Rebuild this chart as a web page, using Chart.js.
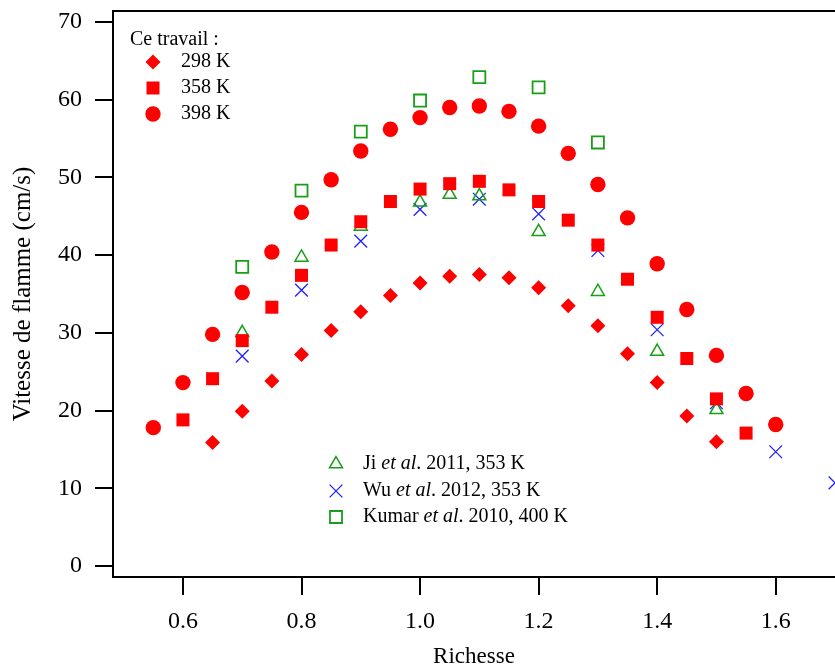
<!DOCTYPE html>
<html>
<head>
<meta charset="utf-8">
<script src="https://cdn.jsdelivr.net/npm/chart.js"></script>
<style>
  html, body { margin: 0; padding: 0; background: #fff; overflow: hidden; }
  #wrap { width: 835px; height: 665px; }
</style>
</head>
<body>
<div id="wrap"><canvas id="flamme" width="835" height="665"></canvas></div>
<script>
// Ce travail (richesse 0.05 en 0.05)
const phi298 = [0.65, 0.70, 0.75, 0.80, 0.85, 0.90, 0.95, 1.00, 1.05, 1.10, 1.15, 1.20, 1.25, 1.30, 1.35, 1.40, 1.45, 1.50];
const v298 = [15.9, 19.9, 23.8, 27.2, 30.3, 32.7, 34.8, 36.4, 37.3, 37.5, 37.1, 35.8, 33.5, 30.9, 27.3, 23.6, 19.3, 16.0];

const phi358 = [0.60, 0.65, 0.70, 0.75, 0.80, 0.85, 0.90, 0.95, 1.00, 1.05, 1.10, 1.15, 1.20, 1.25, 1.30, 1.35, 1.40, 1.45, 1.50, 1.55];
const v358 = [18.8, 24.1, 29.0, 33.3, 37.4, 41.3, 44.3, 46.9, 48.5, 49.2, 49.5, 48.4, 46.9, 44.5, 41.3, 36.9, 32.0, 26.7, 21.5, 17.1];

const phi398 = [0.55, 0.60, 0.65, 0.70, 0.75, 0.80, 0.85, 0.90, 0.95, 1.00, 1.05, 1.10, 1.15, 1.20, 1.25, 1.30, 1.35, 1.40, 1.45, 1.50, 1.55, 1.60];
const v398 = [17.8, 23.6, 29.8, 35.2, 40.4, 45.5, 49.7, 53.4, 56.2, 57.7, 59.0, 59.2, 58.5, 56.6, 53.1, 49.1, 44.8, 38.9, 33.0, 27.1, 22.2, 18.2];

// Littérature
const phiJi = [0.70, 0.80, 0.90, 1.00, 1.05, 1.10, 1.20, 1.30, 1.40, 1.50];
const vJi = [30.0, 39.7, 43.7, 46.8, 47.8, 47.6, 43.0, 35.3, 27.6, 20.1];

const phiWu = [0.70, 0.80, 0.90, 1.00, 1.10, 1.20, 1.30, 1.40, 1.50, 1.60, 1.70];
const vWu = [27.0, 35.5, 41.8, 45.9, 47.2, 45.3, 40.6, 30.4, 21.0, 14.7, 10.7];

const phiKumar = [0.70, 0.80, 0.90, 1.00, 1.10, 1.20, 1.30];
const vKumar = [38.5, 48.3, 55.9, 59.9, 62.9, 61.6, 54.5];

const xTicks = [0.6, 0.8, 1.0, 1.2, 1.4, 1.6];
const yTicks = [0, 10, 20, 30, 40, 50, 60, 70];

const RED = '#ff0000';
const GREEN = '#1a9e1a';
const BLUE = '#1f1fff';
const SERIF = '"Liberation Serif", "Times New Roman", serif';

function pts(xs, ys) {
  return xs.map((x, i) => ({ x: x, y: ys[i] }));
}

const datasets = [
  { label: '298 K', data: pts(phi298, v298), pointStyle: 'rectRot', pointRadius: 7.5,
    backgroundColor: RED, borderColor: RED, borderWidth: 0 },
  { label: '358 K', data: pts(phi358, v358), pointStyle: 'rect', pointRadius: 9.2,
    backgroundColor: RED, borderColor: RED, borderWidth: 0 },
  { label: '398 K', data: pts(phi398, v398), pointStyle: 'circle', pointRadius: 7.7,
    backgroundColor: RED, borderColor: RED, borderWidth: 0 },
  { label: 'Ji', data: pts(phiJi, vJi), pointStyle: 'triangle', pointRadius: 7.5,
    backgroundColor: 'rgba(0,0,0,0)', borderColor: GREEN, borderWidth: 1.5 },
  { label: 'Wu', data: pts(phiWu, vWu), pointStyle: 'crossRot', pointRadius: 9,
    backgroundColor: BLUE, borderColor: BLUE, borderWidth: 1.3 },
  { label: 'Kumar', data: pts(phiKumar, vKumar), pointStyle: 'rect', pointRadius: 8.5,
    backgroundColor: 'rgba(0,0,0,0)', borderColor: GREEN, borderWidth: 1.8 }
];
datasets.forEach(d => { d.showLine = false; d.pointHoverRadius = d.pointRadius; });

// Légendes dessinées à la main (texte en italique pour "et al")
const legendPlugin = {
  id: 'legendes',
  afterDraw(chart) {
    const ctx = chart.ctx;
    const ca = chart.chartArea;
    ctx.save();
    // cadre du haut
    ctx.strokeStyle = '#000';
    ctx.lineWidth = 2;
    ctx.beginPath();
    ctx.moveTo(ca.left - 1, ca.top);
    ctx.lineTo(ca.right, ca.top);
    ctx.stroke();

    const drawPoint = Chart.helpers.drawPoint;
    function marker(ds, x, y) {
      ctx.save();
      ctx.fillStyle = ds.backgroundColor;
      ctx.strokeStyle = ds.borderColor;
      ctx.lineWidth = ds.borderWidth;
      drawPoint(ctx, { pointStyle: ds.pointStyle, radius: ds.pointRadius, rotation: 0, borderWidth: ds.borderWidth }, x, y);
      ctx.restore();
    }
    function parts(list, x, y) {
      list.forEach(p => {
        ctx.font = (p[1] ? 'italic ' : '') + '20px ' + SERIF;
        ctx.fillText(p[0], x, y);
        x += ctx.measureText(p[0]).width;
      });
    }

    ctx.fillStyle = '#000';
    ctx.textBaseline = 'middle';
    ctx.textAlign = 'left';
    ctx.font = '20px ' + SERIF;
    ctx.fillText('Ce travail :', 130, 40);
    const rows1 = [62, 88, 114];
    [0, 1, 2].forEach((k, i) => {
      marker(datasets[k], 153, rows1[i]);
      ctx.fillStyle = '#000';
      ctx.font = '20px ' + SERIF;
      ctx.fillText(datasets[k].label, 181, rows1[i]);
    });

    const rows2 = [464, 491, 517];
    const texts2 = [
      [['Ji ', false], ['et al', true], ['. 2011, 353 K', false]],
      [['Wu ', false], ['et al', true], ['. 2012, 353 K', false]],
      [['Kumar ', false], ['et al', true], ['. 2010, 400 K', false]]
    ];
    [3, 4, 5].forEach((k, i) => {
      marker(datasets[k], 336, rows2[i]);
      ctx.fillStyle = '#000';
      parts(texts2[i], 363, rows2[i]);
    });
    ctx.restore();
  }
};

const axisGrid = { display: true, drawOnChartArea: false, drawTicks: true, tickLength: 18, lineWidth: 2, color: '#000' };
const axisBorder = { display: true, width: 2, color: '#000' };

new Chart(document.getElementById('flamme'), {
  type: 'scatter',
  data: { datasets: datasets },
  options: {
    responsive: false,
    animation: false,
    events: [],
    layout: { autoPadding: false, padding: { top: 11, right: 0, left: 0, bottom: 0 } },
    plugins: { legend: { display: false }, tooltip: { enabled: false } },
    scales: {
      x: {
        type: 'linear',
        min: 0.482,
        max: 1.7,
        afterBuildTicks: s => { s.ticks = xTicks.map(v => ({ value: v })); },
        afterFit: s => { s.height = 88; s.paddingLeft = 0; s.paddingRight = 0; },
        grid: axisGrid,
        border: axisBorder,
        ticks: {
          color: '#000', padding: 12,
          font: { family: SERIF, size: 24 },
          callback: v => v.toFixed(1)
        },
        title: {
          display: true, text: 'Richesse', color: '#000',
          font: { family: SERIF, size: 23 }, padding: { top: 0, bottom: -6 }
        }
      },
      y: {
        type: 'linear',
        min: -1.42,
        max: 71.42,
        afterBuildTicks: s => { s.ticks = yTicks.map(v => ({ value: v })); },
        afterFit: s => { s.width = 113; s.paddingTop = 0; s.paddingBottom = 0; },
        grid: axisGrid,
        border: axisBorder,
        ticks: {
          color: '#000', padding: 13,
          font: { family: SERIF, size: 24 }
        },
        title: {
          display: true, text: 'Vitesse de flamme (cm/s)', color: '#000',
          font: { family: SERIF, size: 25 }, padding: { top: 8, bottom: 0 }
        }
      }
    }
  },
  plugins: [legendPlugin]
});
</script>
</body>
</html>
